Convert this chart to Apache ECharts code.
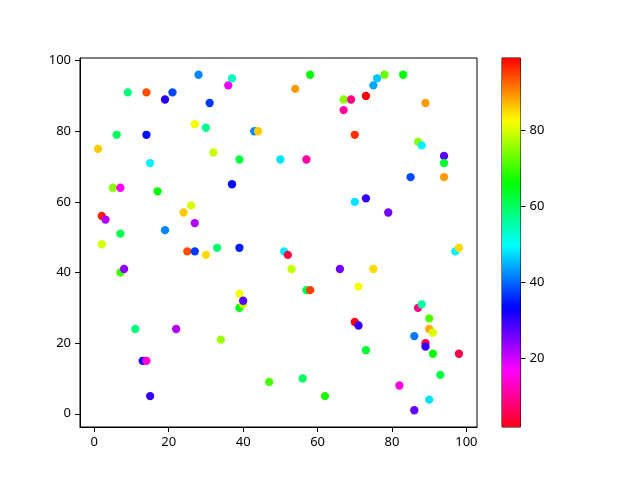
<!DOCTYPE html>
<html><head><meta charset="utf-8">
<script src="https://cdn.jsdelivr.net/npm/echarts@6/dist/echarts.min.js"></script>
<style>html,body{margin:0;padding:0;background:#fff}#c{width:640px;height:480px}</style>
</head><body><div id="c"></div>
<script>
// ---- data ----
const xValues = [1,2,3,2,5,6,7,7,7,8,9,11,13,14,14,14,15,15,17,19,19,21,22,24,25,26,27,27,27,28,30,30,31,32,33,34,36,37,37,39,39,39,39,40,40,43,44,47,50,51,52,53,54,56,57,57,58,58,62,66,67,67,69,70,70,70,71,71,73,73,73,75,75,76,78,79,82,83,85,86,86,87,87,88,88,89,89,89,90,90,91,90,91,93,94,94,94,97,98,98];
const yValues = [75,56,55,48,64,79,64,51,40,41,91,24,15,15,91,79,71,5,63,89,52,91,24,57,46,59,46,54,82,96,45,81,88,74,47,21,93,95,65,72,47,34,30,31,32,80,80,9,72,46,45,41,92,10,72,35,35,96,5,41,89,86,89,79,26,60,25,36,90,61,18,93,41,95,96,57,8,96,67,22,1,30,77,76,31,20,19,88,27,24,23,4,17,11,73,71,67,46,47,17];
const colorValues = [86,97,22,80,75,60,17,61,70,24,58,58,31,14,94,34,49,30,66,31,42,38,22,86,94,80,37,22,82,42,85,57,37,79,59,76,18,54,34,62,35,82,65,79,28,42,86,71,48,49,5,79,89,60,11,61,95,66,68,26,75,11,9,96,2,48,30,82,99,30,63,44,85,46,73,26,15,66,38,41,27,9,75,49,56,5,30,89,71,88,80,48,67,62,28,63,89,49,85,5];
const xTicks = [0,20,40,60,80,100];
const yTicks = [0,20,40,60,80,100];
const cbTicks = [20,40,60,80];
const cMin = 2, cMax = 99;

// ---- matplotlib "hsv" colormap (used reversed) ----
const hsvSeg = {
  r: [[0,1,1],[0.158730,1,1],[0.174603,0.96875,0.96875],[0.333333,0.03125,0.03125],[0.349206,0,0],[0.666667,0,0],[0.682540,0.03125,0.03125],[0.841270,0.96875,0.96875],[0.857143,1,1],[1,1,1]],
  g: [[0,0,0],[0.158730,0.9375,0.9375],[0.174603,1,1],[0.507937,1,1],[0.666667,0.0625,0.0625],[0.682540,0,0],[1,0,0]],
  b: [[0,0,0],[0.333333,0,0],[0.349206,0.0625,0.0625],[0.507937,1,1],[0.841270,1,1],[0.857143,0.9375,0.9375],[1,0.09375,0.09375]]
};
function seg(arr, t) {
  for (let i = 1; i < arr.length; i++) {
    if (t <= arr[i][0]) {
      const a = arr[i-1], b = arr[i];
      const f = (t - a[0]) / (b[0] - a[0]);
      return a[2] + (b[1] - a[2]) * f;
    }
  }
  return arr[arr.length-1][1];
}
function hsvR(t) {
  const u = 1 - t;
  const r = Math.round(seg(hsvSeg.r, u) * 255);
  const g = Math.round(seg(hsvSeg.g, u) * 255);
  const b = Math.round(seg(hsvSeg.b, u) * 255);
  return 'rgb(' + r + ',' + g + ',' + b + ')';
}
const N = 256;
const cmapColors = [];
for (let i = 0; i <= N; i++) cmapColors.push(hsvR(i / N));
const gradStops = [];
for (let i = 0; i <= N; i++) gradStops.push({offset: i / N, color: hsvR(i / N)});

const points = xValues.map((x, i) => [x, yValues[i], colorValues[i]]);

const font = 'Noto Sans';
const labelStyle = {color: '#000', fontSize: 13, fontFamily: font};

const chart = echarts.init(document.getElementById('c'), null, {renderer: 'canvas'});
chart.setOption({
  animation: false,
  backgroundColor: '#fff',
  grid: [
    {left: 80, top: 58, width: 397, height: 369, show: true, borderColor: '#000', borderWidth: 1, backgroundColor: 'transparent'},
    {left: 502, top: 58, width: 18.5, height: 369, show: true, borderColor: '#000', borderWidth: 1, backgroundColor: 'transparent'}
  ],
  xAxis: [
    {type: 'value', gridIndex: 0, min: -3.85, max: 102.85,
     axisLine: {show: true, onZero: false, lineStyle: {color: '#000', width: 1}},
     axisTick: {show: true, length: 5, customValues: xTicks, lineStyle: {color: '#000', width: 1}},
     axisLabel: {customValues: xTicks, margin: 9, ...labelStyle},
     splitLine: {show: false}},
    {type: 'value', gridIndex: 1, min: 0, max: 1, show: false}
  ],
  yAxis: [
    {type: 'value', gridIndex: 0, min: -3.75, max: 100.75,
     axisLine: {show: true, onZero: false, lineStyle: {color: '#000', width: 1}},
     axisTick: {show: true, length: 5, customValues: yTicks, lineStyle: {color: '#000', width: 1}},
     axisLabel: {customValues: yTicks, margin: 9, ...labelStyle},
     splitLine: {show: false}},
    {type: 'value', gridIndex: 1, min: cMin, max: cMax, position: 'right',
     axisLine: {show: false, onZero: false},
     axisTick: {show: true, length: 5, customValues: cbTicks, lineStyle: {color: '#000', width: 1}},
     axisLabel: {customValues: cbTicks, margin: 9, ...labelStyle},
     splitLine: {show: false}}
  ],
  visualMap: {
    type: 'continuous', show: false, min: cMin, max: cMax, dimension: 2, seriesIndex: 0,
    inRange: {color: cmapColors}
  },
  series: [
    {type: 'scatter', xAxisIndex: 0, yAxisIndex: 0, symbol: 'circle', symbolSize: 8.3,
     data: points, itemStyle: {opacity: 1}, silent: true},
    {type: 'custom', xAxisIndex: 1, yAxisIndex: 1, silent: true,
     data: [[0, cMin, 1, cMax]],
     encode: {x: [0, 2], y: [1, 3]},
     renderItem: function (params, api) {
       const p0 = api.coord([api.value(0), api.value(1)]);
       const p1 = api.coord([api.value(2), api.value(3)]);
       return {
         type: 'rect',
         shape: {x: p0[0], y: p1[1], width: p1[0] - p0[0], height: p0[1] - p1[1]},
         style: {fill: new echarts.graphic.LinearGradient(0, 1, 0, 0, gradStops)}
       };
     }}
  ]
});
</script>
</body></html>
